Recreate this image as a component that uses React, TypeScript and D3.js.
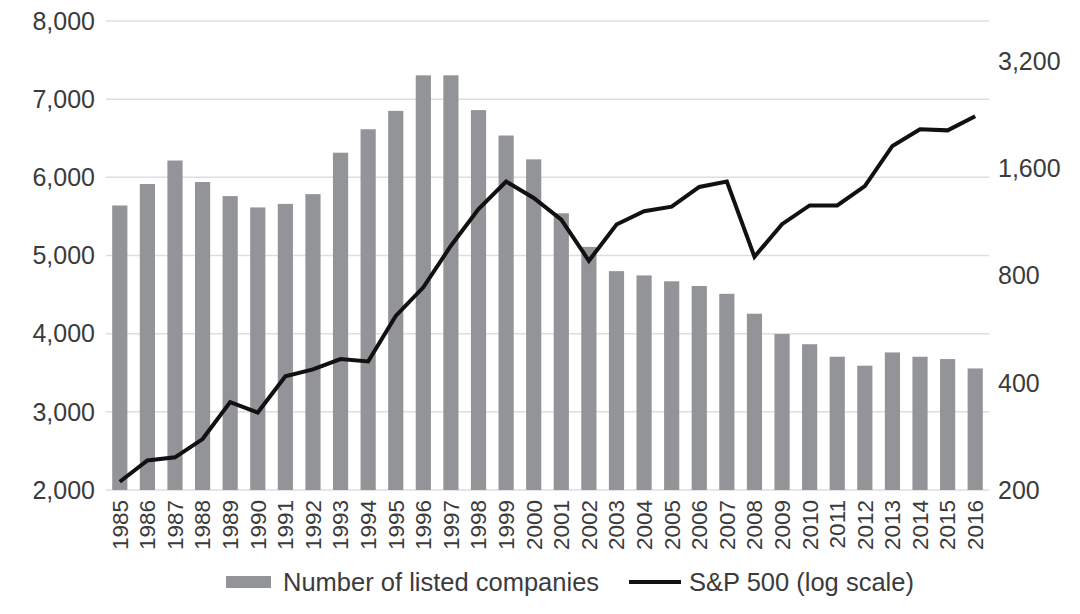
import React, { useEffect, useRef } from "react";
import * as d3 from "d3";

const years: string[] = [
  "1985","1986","1987","1988","1989","1990","1991","1992","1993","1994","1995",
  "1996","1997","1998","1999","2000","2001","2002","2003","2004","2005","2006",
  "2007","2008","2009","2010","2011","2012","2013","2014","2015","2016",
];
const listedCompanies: number[] = [
  5640, 5915, 6215, 5940, 5760, 5615, 5660, 5785, 6315, 6615, 6850,
  7305, 7305, 6860, 6535, 6230, 5540, 5110, 4800, 4745, 4670, 4610,
  4510, 4255, 3995, 3865, 3705, 3590, 3760, 3705, 3675, 3555,
];
const sp500: number[] = [
  211, 242, 247, 278, 353, 330, 417, 436, 466, 459, 616,
  741, 970, 1229, 1469, 1320, 1148, 880, 1112, 1212, 1248, 1418,
  1468, 903, 1115, 1258, 1258, 1426, 1848, 2059, 2044, 2239,
];
const leftTicks: number[] = [2000, 3000, 4000, 5000, 6000, 7000, 8000];
const rightTicks: number[] = [200, 400, 800, 1600, 3200];
const seriesNames: string[] = ["Number of listed companies", "S&P 500 (log scale)"];

const W = 1080;
const H = 614;
const FONT = "'Liberation Sans', Arial, Helvetica, sans-serif";
const TEXT = "#3b3b3b";

export default function App() {
  const ref = useRef<SVGSVGElement>(null);
  useEffect(() => {
    const svg = d3.select(ref.current);
    svg.selectAll("*").remove();
    const left = 106, right = 989, top = 21, bottom = 490;

    const x = d3.scaleBand<string>().domain(years).range([left, right]).paddingInner(0.45).paddingOuter(0.225);
    const yL = d3.scaleLinear().domain([2000, 8000]).range([bottom, top]);
    const yR = d3.scaleLog().base(2).domain([200, 3200]).range([bottom, 61]);

    // gridlines
    svg.append("g").selectAll("line").data(leftTicks).join("line")
      .attr("x1", left).attr("x2", right)
      .attr("y1", d => yL(d)).attr("y2", d => yL(d))
      .attr("stroke", "#dedede").attr("stroke-width", 1.5);

    // bars
    svg.append("g").selectAll("rect").data(listedCompanies).join("rect")
      .attr("x", (_, i) => x(years[i])!)
      .attr("width", x.bandwidth())
      .attr("y", d => yL(d))
      .attr("height", d => bottom - yL(d))
      .attr("fill", "#939498");

    // line
    const line = d3.line<number>()
      .x((_, i) => x(years[i])! + x.bandwidth() / 2)
      .y(d => yR(d));
    svg.append("path").datum(sp500).attr("d", line)
      .attr("fill", "none").attr("stroke", "#111").attr("stroke-width", 4)
      .attr("stroke-linejoin", "miter");

    // left axis labels
    svg.append("g").selectAll("text").data(leftTicks).join("text")
      .attr("x", 95).attr("y", d => yL(d)).attr("dy", "0.35em")
      .attr("text-anchor", "end").attr("font-size", 25)
      .attr("font-family", FONT).attr("fill", TEXT)
      .text(d => d3.format(",")(d));

    // right axis labels
    svg.append("g").selectAll("text").data(rightTicks).join("text")
      .attr("x", 998).attr("y", d => yR(d)).attr("dy", "0.35em")
      .attr("text-anchor", "start").attr("font-size", 25)
      .attr("font-family", FONT).attr("fill", TEXT)
      .text(d => d3.format(",")(d));

    // x labels
    svg.append("g").selectAll("text").data(years).join("text")
      .attr("transform", d => `translate(${x(d)! + x.bandwidth() / 2},${bottom + 10}) rotate(-90)`)
      .attr("dy", "0.35em")
      .attr("text-anchor", "end").attr("font-size", 22.5)
      .attr("font-family", FONT).attr("fill", TEXT)
      .text(d => d);

    // legend
    const lg = svg.append("g");
    lg.append("rect").attr("x", 226).attr("y", 576).attr("width", 45).attr("height", 12).attr("fill", "#939498");
    lg.append("text").attr("x", 283).attr("y", 582).attr("dy", "0.35em")
      .attr("font-size", 25.5).attr("font-family", FONT).attr("fill", TEXT).text(seriesNames[0]);
    lg.append("line").attr("x1", 629).attr("x2", 681).attr("y1", 582).attr("y2", 582)
      .attr("stroke", "#111").attr("stroke-width", 4);
    lg.append("text").attr("x", 689).attr("y", 582).attr("dy", "0.35em")
      .attr("font-size", 25.5).attr("font-family", FONT).attr("fill", TEXT).text(seriesNames[1]);
  }, []);

  return (
    <svg ref={ref} width={W} height={H}
      style={{ position: "absolute", left: 0, top: 0, background: "#fff" }} />
  );
}
